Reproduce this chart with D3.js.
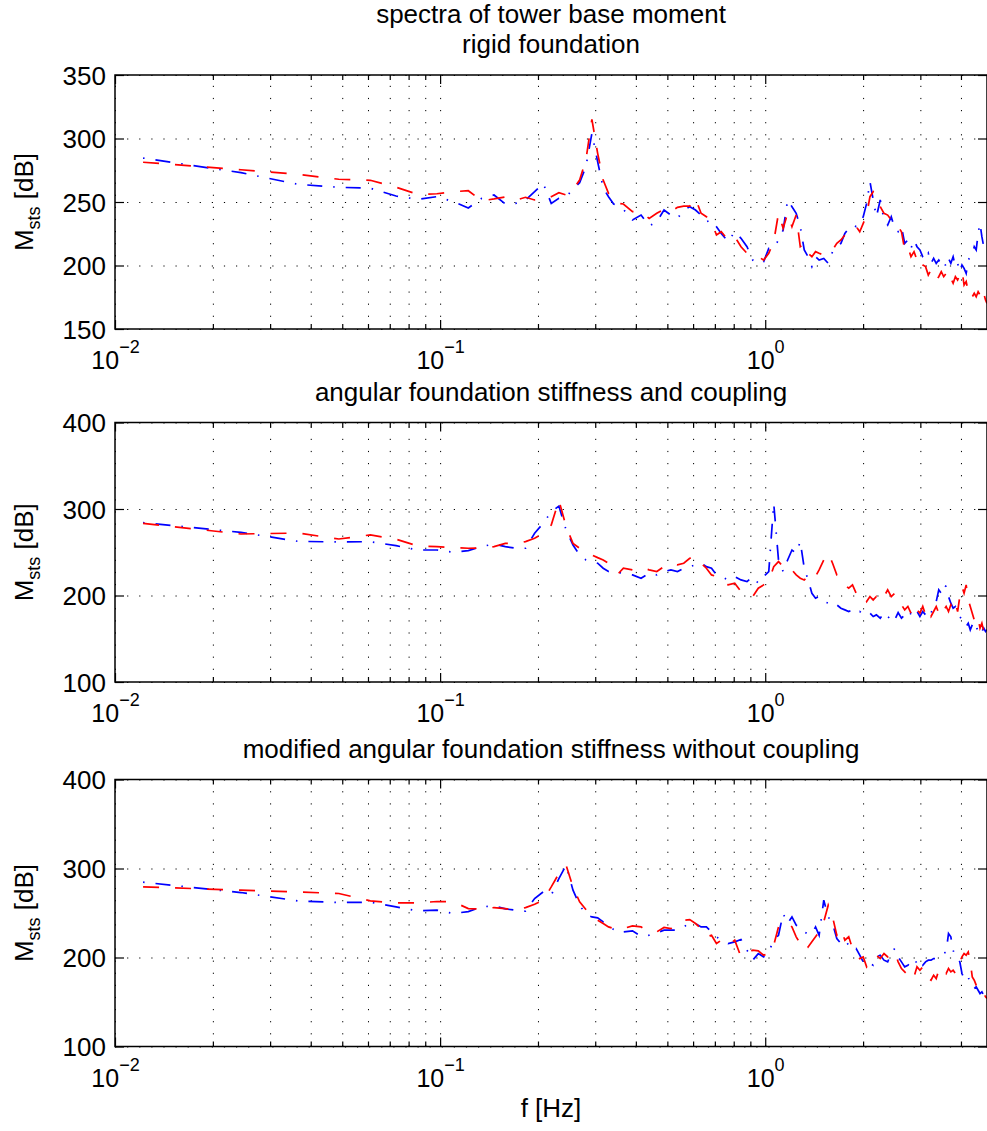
<!DOCTYPE html>
<html>
<head>
<meta charset="utf-8">
<script src="https://cdn.jsdelivr.net/npm/d3@7"></script>
<style>
  body { margin: 0; background: #fff; }
  svg { display: block; font-family: "Liberation Sans", Arial, Helvetica, sans-serif; }
  .grid line { stroke: #000; stroke-width: 1; stroke-dasharray: 1.2 10.9; }
  .grid .domain, .ticks .domain { display: none; }
  .ticks line { stroke: #000; stroke-width: 1.2; }
</style>
</head>
<body>
<svg id="chart" width="987" height="1131"></svg>
<script>

// frequency bins (Hz), df = 50/4096
let freqHz = [
  0.0122, 0.0244, 0.0366, 0.0488, 0.0610, 0.0732, 0.0854, 0.0977, 0.1099, 0.1221,
  0.1343, 0.1465, 0.1587, 0.1709, 0.1831, 0.1953, 0.2075, 0.2197, 0.2319, 0.2441,
  0.2563, 0.2686, 0.2808, 0.2930, 0.3052, 0.3174, 0.3296, 0.3418, 0.3540, 0.3662,
  0.3906, 0.4150, 0.4395, 0.4639, 0.4883, 0.5127, 0.5371, 0.5615, 0.5859, 0.6104,
  0.6348, 0.6592, 0.6836, 0.7080, 0.7324,
  0.7690, 0.8057, 0.8423, 0.8789, 0.9155, 0.9521, 0.9888, 1.0254, 1.0620, 1.0986,
  1.1353, 1.1719, 1.2085, 1.2451, 1.2817, 1.3184, 1.3550, 1.3916, 1.4282, 1.4648,
  1.5137, 1.5625, 1.6113, 1.6602, 1.7090, 1.7578, 1.8066, 1.8555, 1.9043, 1.9531,
  2.0020, 2.0508, 2.0996, 2.1484, 2.1973,
  2.2583, 2.3193, 2.3804, 2.4414, 2.5024, 2.5635, 2.6245, 2.6855, 2.7466, 2.8076,
  2.8687, 2.9297, 2.9907, 3.0518, 3.1128, 3.1738, 3.2349, 3.2959, 3.3569, 3.4180,
  3.4790, 3.5400, 3.6011, 3.6621, 3.7231, 3.7842, 3.8452, 3.9063, 3.9673, 4.0283,
  4.0894, 4.1504, 4.2114, 4.2725, 4.3335, 4.3945, 4.4556, 4.5166, 4.5776, 4.6387,
  4.6997, 4.7607, 4.8096
]

// rigid foundation
let rigidBlue = [
  284.6, 273.1, 263.9, 261.6, 260.8, 254.7, 252.1, 254.2, 250.2, 245.3,
  252.9, 255.5, 248.4, 248.9, 251.6, 258.1, 264.7, 248.9, 252.9, 254.2,
  260.0, 265.2, 277.8, 304.1, 281.7, 261.0, 254.2, 248.4, 246.3, 244.2,
  235.8, 239.7, 231.1, 234.5, 243.7, 239.7, 237.1, 243.7, 246.3, 243.7,
  239.7, 234.5, 235.8, 230.6, 225.3,
  218.8, 226.6, 221.4, 214.8, 204.3, 201.7, 203.0, 213.5, 213.5, 220.1,
  227.9, 251.6, 246.3, 241.1, 230.6, 212.2, 206.9, 199.1, 206.9, 204.3,
  205.6, 201.7, 210.9, 214.8, 217.4, 225.3, 229.3, 231.9, 230.6, 233.2,
  238.4, 248.9, 266.0, 251.6, 238.4,
  251.6, 235.8, 231.9, 238.4, 229.3, 226.6, 230.6, 217.4, 220.1, 213.5,
  220.1, 214.8, 212.2, 206.9, 204.3, 209.6, 201.7, 205.6, 201.7, 204.3,
  200.4, 203.0, 199.1, 205.6, 201.7, 206.9, 199.1, 201.7, 195.1, 200.4,
  197.7, 193.8, 204.3, 206.9, 208.3, 214.8, 212.2, 225.3, 233.2, 222.7,
  214.8, 214.8, 210.9
]
let rigidRed = [
  281.3, 275.4, 271.8, 267.9, 267.1, 261.6, 256.0, 256.5, 258.1, 258.9,
  251.0, 252.4, 254.0, 251.5, 253.7, 251.6, 252.1, 254.2, 257.3, 255.5,
  260.0, 267.3, 283.1, 315.1, 288.3, 267.3, 256.8, 250.2, 248.9, 248.4,
  242.4, 242.4, 237.1, 241.1, 244.2, 242.4, 245.8, 246.8, 246.8, 252.9,
  241.1, 238.4, 234.5, 224.0, 226.6,
  220.1, 222.7, 214.8, 209.6, 208.3, 206.9, 204.3, 209.6, 218.8, 241.1,
  229.3, 241.1, 230.6, 239.7, 214.8, 217.4, 209.6, 206.9, 210.9, 209.6,
  208.3, 209.6, 212.2, 217.4, 220.1, 224.0, 226.6, 227.9, 230.6, 226.6,
  233.2, 239.7, 254.2, 258.1, 254.2,
  246.3, 241.1, 239.7, 235.8, 235.8, 230.6, 226.6, 212.2, 214.8, 206.9,
  210.9, 204.3, 206.9, 200.4, 199.1, 192.5, 196.4, 193.8, 188.6, 191.2,
  195.1, 191.2, 193.8, 187.3, 189.9, 186.0, 191.2, 188.6, 192.5, 196.4,
  184.6, 187.3, 179.4, 180.7, 175.4, 178.1, 175.4, 179.4, 176.7, 182.0,
  178.1, 172.8, 170.2
]

// angular foundation stiffness and coupling
let coupledBlue = [
  284.2, 273.0, 262.6, 261.9, 262.2, 257.6, 252.6, 252.6, 250.0, 251.9,
  256.5, 259.6, 256.5, 254.6, 254.6, 271.9, 283.4, 296.9, 303.4, 275.7,
  258.4, 246.9, 241.1, 239.2, 237.3, 231.5, 227.7, 225.7, 226.5, 225.7,
  223.8, 220.0, 225.7, 223.8, 227.7, 229.6, 227.7, 231.5, 233.4, 235.4,
  237.3, 233.4, 231.5, 223.8, 221.9,
  218.0, 221.9, 218.0, 216.1, 221.9, 214.2, 221.9, 227.7, 306.5, 241.1,
  227.7, 241.1, 252.6, 248.8, 262.3, 231.5, 218.0, 202.6, 196.9, 198.8,
  193.0, 191.1, 187.3, 189.2, 185.3, 183.4, 181.5, 183.4, 179.6, 181.5,
  177.6, 177.6, 179.6, 175.7, 177.6,
  173.8, 179.6, 173.8, 177.6, 171.9, 180.3, 173.8, 177.6, 173.8, 179.6,
  175.7, 181.5, 175.7, 181.5, 177.6, 183.4, 179.6, 187.3, 193.0, 206.5,
  202.6, 212.3, 210.3, 198.8, 191.1, 185.3, 187.3, 181.5, 175.7, 171.9,
  168.0, 164.2, 168.0, 160.3, 166.1, 160.3, 164.2, 158.4, 162.3, 158.4,
  162.3, 158.4, 160.3
]
let coupledRed = [
  283.4, 271.1, 272.2, 265.3, 270.0, 265.0, 257.3, 256.5, 255.3, 254.6,
  255.0, 256.5, 260.3, 260.3, 262.3, 266.1, 271.9, 281.5, 310.3, 279.6,
  260.3, 254.6, 250.7, 246.9, 243.8, 241.1, 237.3, 233.4, 225.7, 231.5,
  229.6, 232.6, 229.6, 227.7, 233.4, 237.3, 235.4, 237.3, 243.0, 245.0,
  237.3, 231.5, 223.8, 221.9, 216.1,
  212.3, 214.2, 204.6, 200.7, 198.8, 208.4, 212.3, 216.1, 233.4, 239.2,
  233.4, 227.7, 229.6, 223.8, 220.0, 218.0, 221.9, 218.0, 221.9, 229.6,
  241.1, 248.8, 237.3, 223.8, 221.9, 212.3, 208.4, 212.3, 202.6, 198.8,
  200.7, 193.0, 198.8, 194.9, 198.8,
  193.0, 198.8, 206.5, 198.8, 202.6, 193.0, 189.2, 183.4, 187.3, 179.6,
  189.2, 183.4, 179.6, 187.3, 177.6, 183.4, 175.7, 181.5, 187.3, 179.6,
  187.3, 183.4, 187.3, 181.5, 189.2, 183.4, 191.1, 181.5, 198.8, 210.3,
  202.6, 212.3, 194.9, 187.3, 179.6, 171.9, 168.0, 173.8, 162.3, 168.0,
  158.4, 162.3, 154.6
]

// modified angular foundation stiffness without coupling
let modifiedBlue = [
  284.6, 273.0, 263.6, 261.8, 262.1, 256.9, 252.4, 253.2, 249.4, 251.6,
  256.9, 258.0, 254.6, 253.1, 252.0, 266.2, 273.7, 270.0, 288.7, 303.7,
  275.6, 258.8, 248.6, 245.6, 244.5, 240.0, 236.3, 231.4, 228.0, 228.8,
  229.9, 223.9, 225.0, 227.7, 230.7, 230.7, 230.7, 234.4, 238.9, 238.2,
  234.4, 234.4, 228.8, 223.2, 219.4,
  215.7, 217.6, 220.2, 208.2, 197.0, 204.4, 200.7, 206.3, 219.4, 225.0,
  249.4, 238.2, 245.6, 236.3, 234.4, 228.8, 226.2, 226.9, 234.4, 225.0,
  264.4, 245.6, 238.2, 221.3, 215.7, 219.4, 213.8, 208.2, 210.1, 202.6,
  195.1, 197.0, 193.2, 191.3, 200.7,
  202.6, 197.0, 195.1, 204.4, 210.1, 200.7, 195.1, 189.5, 191.3, 195.1,
  198.8, 193.2, 197.0, 191.3, 195.1, 197.0, 197.0, 198.8, 198.8, 200.7,
  202.6, 204.4, 206.3, 226.9, 223.2, 208.2, 200.7, 198.8, 195.1, 182.0,
  176.3, 174.5, 178.2, 170.7, 167.0, 165.1, 167.0, 163.2, 159.5, 161.4,
  157.6, 155.8, 157.6
]
let modifiedRed = [
  279.4, 275.6, 273.7, 271.9, 263.6, 261.4, 261.4, 262.9, 262.5, 255.0,
  254.3, 256.1, 255.0, 253.1, 256.1, 259.9, 264.4, 279.3, 294.3, 303.7,
  279.3, 262.5, 253.9, 245.6, 241.9, 238.2, 234.4, 232.5, 230.7, 232.5,
  235.5, 234.4, 228.8, 228.8, 233.7, 232.5, 238.2, 241.9, 242.6, 238.2,
  232.5, 223.2, 225.0, 215.7, 219.4,
  213.8, 219.4, 200.7, 204.4, 208.2, 207.4, 202.6, 204.4, 213.8, 234.4,
  238.2, 240.0, 234.4, 223.2, 215.7, 219.4, 211.9, 217.6, 223.2, 228.8,
  240.0, 258.8, 245.6, 225.0, 232.5, 219.4, 223.2, 210.1, 204.4, 198.8,
  200.7, 189.5, 195.1, 200.7, 202.6,
  198.8, 204.4, 200.7, 202.6, 206.3, 195.1, 187.6, 183.8, 180.1, 183.8,
  178.2, 189.5, 185.7, 189.5, 183.8, 176.3, 174.5, 180.1, 176.3, 185.7,
  182.0, 185.7, 182.0, 187.6, 183.8, 185.7, 182.0, 191.3, 195.1, 200.7,
  204.4, 202.6, 206.3, 195.1, 178.2, 174.5, 168.9, 167.0, 163.2, 165.1,
  159.5, 155.8, 153.9
]

let yTicksRigid = [150, 200, 250, 300, 350]
let yTicksFlex = [100, 200, 300, 400]
let xMajorExp = { 0.01: "\u22122", 0.1: "\u22121", 1: "0" }

let titles = [
  ["spectra of tower base moment", "rigid foundation"],
  ["angular foundation stiffness and coupling"],
  ["modified angular foundation stiffness without coupling"]
]

const left = 115, right = 987, fs = 26

let panels = [
  { title: titles[0], blue: rigidBlue, red: rigidRed, yDomain: [150, 350], yTicks: yTicksRigid, top: 75, bottom: 329 },
  { title: titles[1], blue: coupledBlue, red: coupledRed, yDomain: [100, 400], yTicks: yTicksFlex, top: 422.5, bottom: 682 },
  { title: titles[2], blue: modifiedBlue, red: modifiedRed, yDomain: [100, 400], yTicks: yTicksFlex, top: 779.5, bottom: 1046.5 }
]

let svg = d3.select("#chart")

let x = d3.scaleLog()
    .domain([0.01, 4.81])
    .range([left, right])

let allTicks = x.ticks()
let majorTicks = allTicks.filter(d => Math.abs(Math.log10(d) - Math.round(Math.log10(d))) < 1e-9)
let minorTicks = allTicks.filter(d => !majorTicks.includes(d))

function drawPanel(p, i) {

    let y = d3.scaleLinear()
        .domain(p.yDomain)
        .range([p.bottom, p.top])

    let h = p.bottom - p.top
    let g = svg.append("g")

    // dotted grid
    g.append("g")
        .attr("class", "grid")
        .attr("transform", `translate(0,${p.bottom})`)
        .call(d3.axisBottom(x).tickValues(allTicks).tickSize(-h).tickFormat(""))
    g.append("g")
        .attr("class", "grid")
        .attr("transform", `translate(${left},0)`)
        .call(d3.axisLeft(y).tickValues(p.yTicks).tickSize(-(right - left)).tickFormat(""))

    // spectra
    g.append("clipPath")
        .attr("id", "clip" + i)
        .append("rect")
            .attr("x", left).attr("y", p.top)
            .attr("width", right - left).attr("height", h)

    let line = d3.line()
        .x(d => x(d[0]))
        .y(d => y(d[1]))

    g.append("path")
        .datum(d3.zip(freqHz, p.blue))
        .attr("clip-path", `url(#clip${i})`)
        .attr("fill", "none")
        .attr("stroke", "#0000ff")
        .attr("stroke-width", 1.7)
        .attr("stroke-dasharray", "1.5 11 15 11")
        .attr("d", line)

    g.append("path")
        .datum(d3.zip(freqHz, p.red))
        .attr("clip-path", `url(#clip${i})`)
        .attr("fill", "none")
        .attr("stroke", "#ff0000")
        .attr("stroke-width", 1.7)
        .attr("stroke-dasharray", "16 16")
        .attr("d", line)

    // inward ticks on all four sides
    g.append("g").attr("class", "ticks")
        .attr("transform", `translate(0,${p.bottom})`)
        .call(d3.axisBottom(x).tickValues(minorTicks).tickSize(-5).tickFormat(""))
    g.append("g").attr("class", "ticks")
        .attr("transform", `translate(0,${p.top})`)
        .call(d3.axisTop(x).tickValues(minorTicks).tickSize(-5).tickFormat(""))
    g.append("g").attr("class", "ticks")
        .attr("transform", `translate(0,${p.top})`)
        .call(d3.axisTop(x).tickValues(majorTicks).tickSize(-9).tickFormat(""))
    g.append("g").attr("class", "ticks")
        .attr("transform", `translate(${right},0)`)
        .call(d3.axisRight(y).tickValues(p.yTicks).tickSize(-9).tickFormat(""))

    let yAxis = g.append("g").attr("class", "ticks")
        .attr("transform", `translate(${left},0)`)
        .call(d3.axisLeft(y).tickValues(p.yTicks).tickSizeInner(-9).tickSizeOuter(0).tickPadding(9))
    yAxis.selectAll(".tick text")
        .attr("font-size", fs)
        .attr("font-family", null)
        .attr("fill", "#000")
        .attr("dy", "0.35em")

    let xAxis = g.append("g").attr("class", "ticks")
        .attr("transform", `translate(0,${p.bottom})`)
        .call(d3.axisBottom(x).tickValues(majorTicks).tickSizeInner(-9).tickSizeOuter(0).tickFormat(""))
    xAxis.attr("font-family", null)
    let lbl = xAxis.selectAll(".tick text")
        .attr("y", 40)
        .attr("dy", null)
        .attr("fill", "#000")
        .attr("font-size", 25)
    lbl.append("tspan").text("10")
    lbl.append("tspan")
        .attr("dy", -16)
        .attr("font-size", 18)
        .text(d => xMajorExp[d])

    // box
    g.append("rect")
        .attr("x", left).attr("y", p.top)
        .attr("width", right - left).attr("height", h)
        .attr("fill", "none")
        .attr("stroke", "#000")
        .attr("stroke-width", 1.5)

    // title
    g.selectAll(".title")
        .data(p.title)
        .enter()
        .append("text")
            .attr("class", "title")
            .attr("x", (left + right) / 2)
            .attr("y", (d, j) => p.top - 22 - (p.title.length - 1 - j) * 30)
            .attr("text-anchor", "middle")
            .attr("font-size", fs)
            .text(d => d)

    // y label
    let yl = g.append("text")
        .attr("transform", `translate(33,${(p.top + p.bottom) / 2}) rotate(-90)`)
        .attr("text-anchor", "middle")
        .attr("font-size", fs)
    yl.append("tspan").text("M")
    yl.append("tspan").attr("dy", 7).attr("font-size", 18).text("sts")
    yl.append("tspan").attr("dy", -7).text(" [dB]")
}

panels.forEach(drawPanel)

svg.append("text")
    .attr("x", (left + right) / 2)
    .attr("y", 1117)
    .attr("text-anchor", "middle")
    .attr("font-size", fs)
    .text("f [Hz]")

</script>
</body>
</html>
